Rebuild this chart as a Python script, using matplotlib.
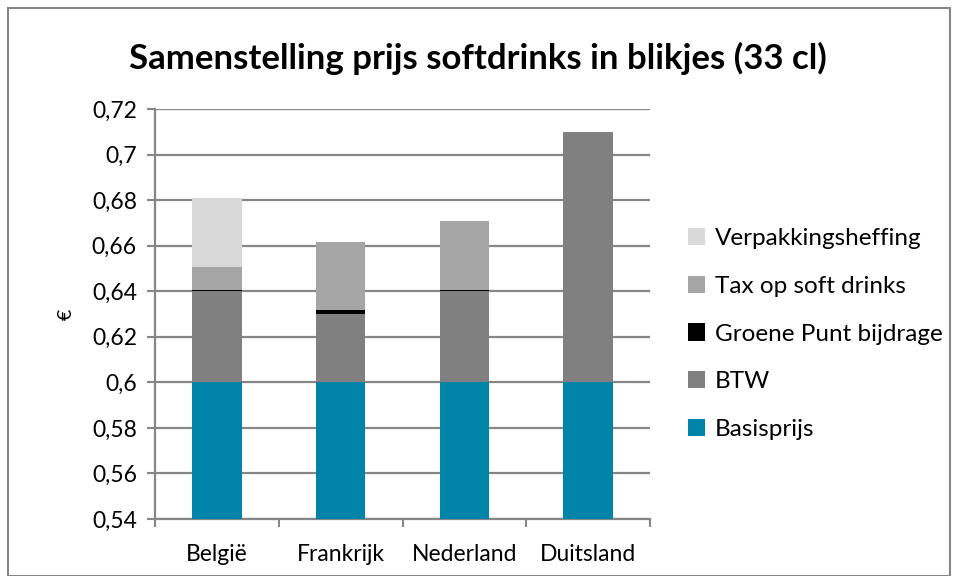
import numpy as np
import matplotlib.pyplot as plt
from matplotlib.patches import Rectangle
from matplotlib.ticker import FuncFormatter

landen = ['België', 'Frankrijk', 'Nederland', 'Duitsland']
basisprijs = [0.60, 0.60, 0.60, 0.60]
btw = [0.040, 0.030, 0.040, 0.110]
groene_punt = [0.0004, 0.0018, 0.0004, 0.0]
tax_soft = [0.0101, 0.0300, 0.0304, 0.0]
verpakking = [0.0305, 0.0, 0.0, 0.0]

series = [
    ('Basisprijs', basisprijs, '#0083A9'),
    ('BTW', btw, '#808080'),
    ('Groene Punt bijdrage', groene_punt, '#000000'),
    ('Tax op soft drinks', tax_soft, '#A5A5A5'),
    ('Verpakkingsheffing', verpakking, '#D9D9D9'),
]

plt.rcParams['font.family'] = ['Lato', 'DejaVu Sans']

fig = plt.figure(figsize=(9.56, 5.76), dpi=100)
ax = fig.add_axes([155/956, 1 - 519/576, 495/956, 410/576])

x = np.arange(len(landen))
bottom = np.zeros(len(landen))
handles = []
for name, vals, col in series:
    vals = np.array(vals)
    b = ax.bar(x, vals, 0.4, bottom=bottom, color=col, label=name, zorder=3)
    handles.append(b)
    bottom += vals

ax.set_ylim(0.54, 0.72)
ax.set_xlim(-0.5, 3.5)
ax.set_yticks(np.arange(0.54, 0.7201, 0.02))
ax.yaxis.set_major_formatter(FuncFormatter(lambda v, p: ('%g' % round(v, 2)).replace('.', ',')))
ax.grid(axis='y', color='#868686', linewidth=1.6, zorder=0)

ax.set_xticks(x)
ax.set_xticklabels(landen)
ax.set_xticks(np.arange(-0.5, 3.6, 1), minor=True)
ax.tick_params(axis='x', which='major', length=0, pad=18, labelsize=16.5)
ax.tick_params(axis='x', which='minor', length=6, width=1.5, color='#868686')
ax.tick_params(axis='y', length=6, width=1.5, color='#868686', labelsize=16.5, pad=7)

for s in ['top', 'right']:
    ax.spines[s].set_visible(False)
for s in ['left', 'bottom']:
    ax.spines[s].set_color('#868686')
    ax.spines[s].set_linewidth(1.6)

ax.set_ylabel('€', fontsize=14, labelpad=12)

fig.text(0.5, 1 - 58/576, 'Samenstelling prijs softdrinks in blikjes (33 cl)',
         ha='center', va='center', fontsize=25, fontweight='bold')

leg = fig.legend(handles[::-1], [s[0] for s in series][::-1],
                 loc='center left', bbox_to_anchor=(666/956, 1 - 334/576),
                 frameon=False, fontsize=17.5, labelspacing=1.1,
                 handlelength=0.7, handleheight=0.7, handletextpad=0.4)

fig.patches.append(Rectangle((8/956, 0), 942/956, 1 - 8/576, transform=fig.transFigure,
                             fill=False, edgecolor='#868686', linewidth=1.5))

fig.savefig('out.png', dpi=100)
